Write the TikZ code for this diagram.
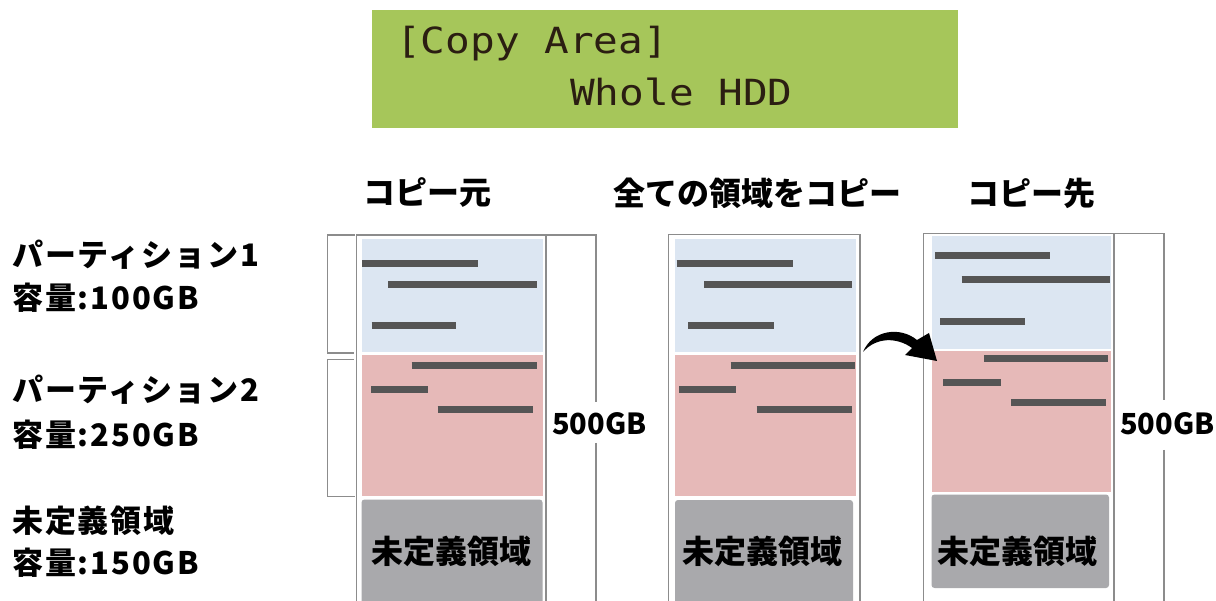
\documentclass[tikz,border=0pt]{standalone}
\usepackage{fontspec}
\setmainfont{Noto Sans CJK JP}
\newfontfamily\lcdfont{DejaVu Sans Mono}[FakeStretch=1.14]
\newfontfamily\lblfont{Noto Sans CJK JP}[LetterSpace=6]
\usetikzlibrary{arrows.meta}
\definecolor{lcdgreen}{HTML}{A6C65A}
\definecolor{lcdtext}{HTML}{2B1E12}
\definecolor{pblue}{HTML}{DCE6F2}
\definecolor{ppink}{HTML}{E6B9B8}
\definecolor{pgray}{HTML}{A9A9AC}
\definecolor{barc}{HTML}{555555}
\definecolor{linec}{HTML}{8C8C8C}
\tikzset{
  bar/.style={draw=barc, line width=7pt},
  frameline/.style={draw=linec, line width=1.3pt},
  label/.style={anchor=west, inner sep=0pt, font=\fontsize{31}{34}\selectfont\lblfont\bfseries},
  heading/.style={inner sep=0pt, font=\fontsize{32}{34}\selectfont\bfseries},
  graytext/.style={inner sep=0pt, font=\fontsize{32}{36}\selectfont\bfseries},
  sizetext/.style={inner sep=0pt, font=\fontsize{29}{30}\selectfont\bfseries},
  lcdline/.style={anchor=base west, inner sep=0pt, text=lcdtext, font=\fontsize{36}{40}\selectfont\lcdfont}
}
\begin{document}
\begin{tikzpicture}[x=1pt,y=-1pt]
\useasboundingbox (0,0) rectangle (1216,601);
\fill[white] (0,0) rectangle (1216,601);

% LCD panel
\node[fill=lcdgreen, anchor=north west, minimum width=586pt, minimum height=118pt, inner sep=0pt] (lcd) at (372,10) {};
\node[lcdline] (lcd1) at (396,54) {[Copy Area]};
\node[lcdline] (lcd2) at (570,106) {Whole HDD};

% headings
\node[heading] (h1) at (427,193) {コピー元};
\node[heading] (h2) at (757,193) {全ての領域をコピー};
\node[heading] (h3) at (1031,193) {コピー先};

% left labels
\node[label] (l1) at (12,255) {パーティション1};
\node[label] (l2) at (12,298) {容量:100GB};
\node[label] (l3) at (12,390) {パーティション2};
\node[label] (l4) at (12,435) {容量:250GB};
\node[label] (l5) at (12,521) {未定義領域};
\node[label] (l6) at (12,563) {容量:150GB};

% ---------- column 1 (source)
\fill[pblue] (361.5,239) rectangle (542.5,352.5);
\fill[ppink] (361.5,355) rectangle (542.5,496);
\fill[pgray, rounded corners=3pt] (361.5,499.5) rectangle (542.5,612);
\draw[frameline] (356.5,604) -- (356.5,235) -- (546,235) -- (546,604);
\draw[bar] (362,263.5) -- (478,263.5);
\draw[bar] (388,285) -- (536.5,285);
\draw[bar] (371.5,326) -- (456,326);
\draw[bar] (411.5,366) -- (536.5,366);
\draw[bar] (371,389.5) -- (427.5,389.5);
\draw[bar] (437.5,410) -- (532.5,410);
\node[graytext] (g1) at (451,551) {未定義領域};
% left brackets
\draw[frameline] (355,235) -- (327.5,235) -- (327.5,353) -- (354,353);
\draw[frameline] (354,359.5) -- (327.5,359.5) -- (327.5,496.5) -- (355,496.5);
% right bracket
\draw[frameline] (546,235) -- (596,235) -- (596,402);
\draw[frameline] (596,443) -- (596,604);
\node[sizetext] (s1) at (599.5,424) {500GB};

% ---------- column 2 (middle)
\fill[pblue] (675,239) rectangle (856,352);
\fill[ppink] (675,355) rectangle (856,496);
\fill[pgray, rounded corners=3pt] (675,500) rectangle (853,612);
\draw[frameline] (668.5,604) -- (668.5,234.5) -- (860,234.5) -- (860,604);
\draw[bar] (676.5,263.5) -- (792.5,263.5);
\draw[bar] (704,285) -- (851.5,285);
\draw[bar] (688,326) -- (774,326);
\draw[bar] (730.5,366) -- (855,366);
\draw[bar] (679,389.5) -- (736,389.5);
\draw[bar] (756.5,410) -- (851.5,410);
\node[graytext] (g2) at (762,551) {未定義領域};

% ---------- column 3 (destination)
\fill[pblue] (931.5,236) rectangle (1111,349.5);
\fill[ppink] (931.5,351.5) rectangle (1111,491.5);
\fill[pgray, rounded corners=3pt] (931.5,494.5) rectangle (1109,588);
\draw[frameline] (923.5,604) -- (923.5,233.5) -- (1114,233.5) -- (1114,604);
\draw[bar] (935,255.5) -- (1050,255.5);
\draw[bar] (961.5,279.5) -- (1110,279.5);
\draw[bar] (940,321.5) -- (1024.5,321.5);
\draw[bar] (984,359) -- (1108,359);
\draw[bar] (943,382.5) -- (1000.5,382.5);
\draw[bar] (1011,403) -- (1106,403);
\node[graytext] (g3) at (1017,551) {未定義領域};
\draw[frameline] (1114,233.5) -- (1164,233.5) -- (1164,400);
\draw[frameline] (1164,450) -- (1164,604);
\node[sizetext] (s3) at (1167.5,424) {500GB};

% ---------- curved arrow
\coordinate (atail) at (863,352);
\coordinate (atip) at (937,361);
\fill[black] (atail)
  .. controls (872,330) and (900,326) .. (917,340)
  -- (929,333) -- (atip) -- (905,355) -- (912,348)
  .. controls (897,337) and (876,337) .. (atail) -- cycle;
\end{tikzpicture}
\end{document}
